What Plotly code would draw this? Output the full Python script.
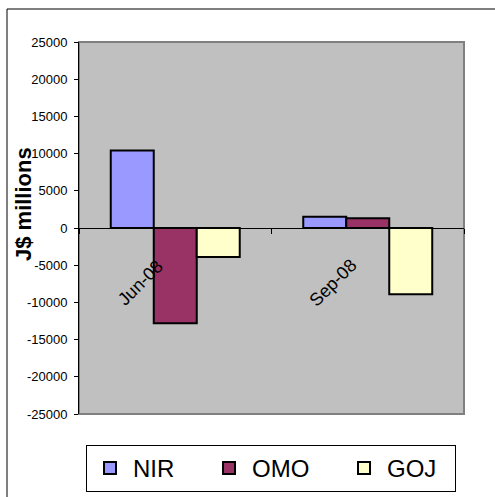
import plotly.graph_objects as go

# Quarterly liquidity flows by source
quarters = ["Jun-08", "Sep-08"]
nir = [10400, 1500]
omo = [-12800, 1300]
goj = [-3900, -8900]

series_names = ["NIR", "OMO", "GOJ"]
series_values = [nir, omo, goj]
series_colors = ["#9999FF", "#993366", "#FFFFCC"]
legend_pad = [4, 4, 2]  # trailing spaces after each legend entry

y_ticks = list(range(-25000, 25001, 5000))
y_tick_text = [str(v) for v in y_ticks]

FONT = "Liberation Sans, Arial, sans-serif"
W, H = 495, 497
L, R, T, B = 79, 31, 42, 83
plot_w = W - L - R
plot_h = H - T - B

fig = go.Figure()
for name, vals, color, pad in zip(series_names, series_values, series_colors, legend_pad):
    fig.add_trace(go.Bar(
        x=quarters, y=vals, name=name + "\u00a0" * pad,
        marker=dict(color=color, line=dict(color="black", width=2)),
    ))

# category labels sit beside the zero line, rotated
annotations = []
for q in quarters:
    annotations.append(dict(
        x=q, y=0, xref="x", yref="y", text=q, showarrow=False,
        textangle=-45, xshift=-35, yshift=-55,
        font=dict(family=FONT, size=18, color="black"),
    ))

# value-axis title
annotations.append(dict(
    x=(24 - L) / plot_w, y=(H - B - 204) / plot_h, xref="paper", yref="paper",
    text="<b>J$ millions</b>", showarrow=False, textangle=-90,
    xanchor="center", yanchor="middle",
    font=dict(family=FONT, size=22, color="black"),
))

shapes = [
    # plot-area border
    dict(type="rect", xref="paper", yref="paper", x0=0, x1=1, y0=0, y1=1,
         line=dict(color="#808080", width=2), layer="below"),
    # chart frame
    dict(type="rect", xref="paper", yref="paper",
         x0=(7 - L) / plot_w, x1=(W + 20 - L) / plot_w,
         y0=-(B + 20) / plot_h, y1=(H - B - 9) / plot_h,
         line=dict(color="black", width=1), layer="below"),
]

fig.update_layout(
    width=W, height=H,
    margin=dict(l=L, r=R, t=T, b=B, pad=0, autoexpand=False),
    paper_bgcolor="white", plot_bgcolor="#C0C0C0",
    barmode="group", bargap=0.33, bargroupgap=0,
    font=dict(family=FONT, color="black"),
    showlegend=True,
    legend=dict(
        orientation="h", x=(86 - L) / plot_w, xanchor="left",
        y=-31 / plot_h, yanchor="top", itemwidth=36,
        bgcolor="white", bordercolor="black", borderwidth=1,
        font=dict(family=FONT, size=24, color="black"),
    ),
    xaxis=dict(
        type="category", anchor="free", position=0.5,
        showline=True, linecolor="black", linewidth=1,
        ticks="outside", tickson="boundaries", ticklen=5, tickcolor="black",
        showticklabels=False, showgrid=False, zeroline=False,
    ),
    yaxis=dict(
        range=[-25000, 25000], tickvals=y_ticks, ticktext=y_tick_text,
        showline=True, linecolor="black", linewidth=1,
        ticks="outside", ticklen=4, tickcolor="black",
        tickfont=dict(family=FONT, size=13, color="black"),
        ticklabelstandoff=4,
        showgrid=False, zeroline=False,
    ),
    annotations=annotations,
    shapes=shapes,
)

fig.write_html("out.html")
